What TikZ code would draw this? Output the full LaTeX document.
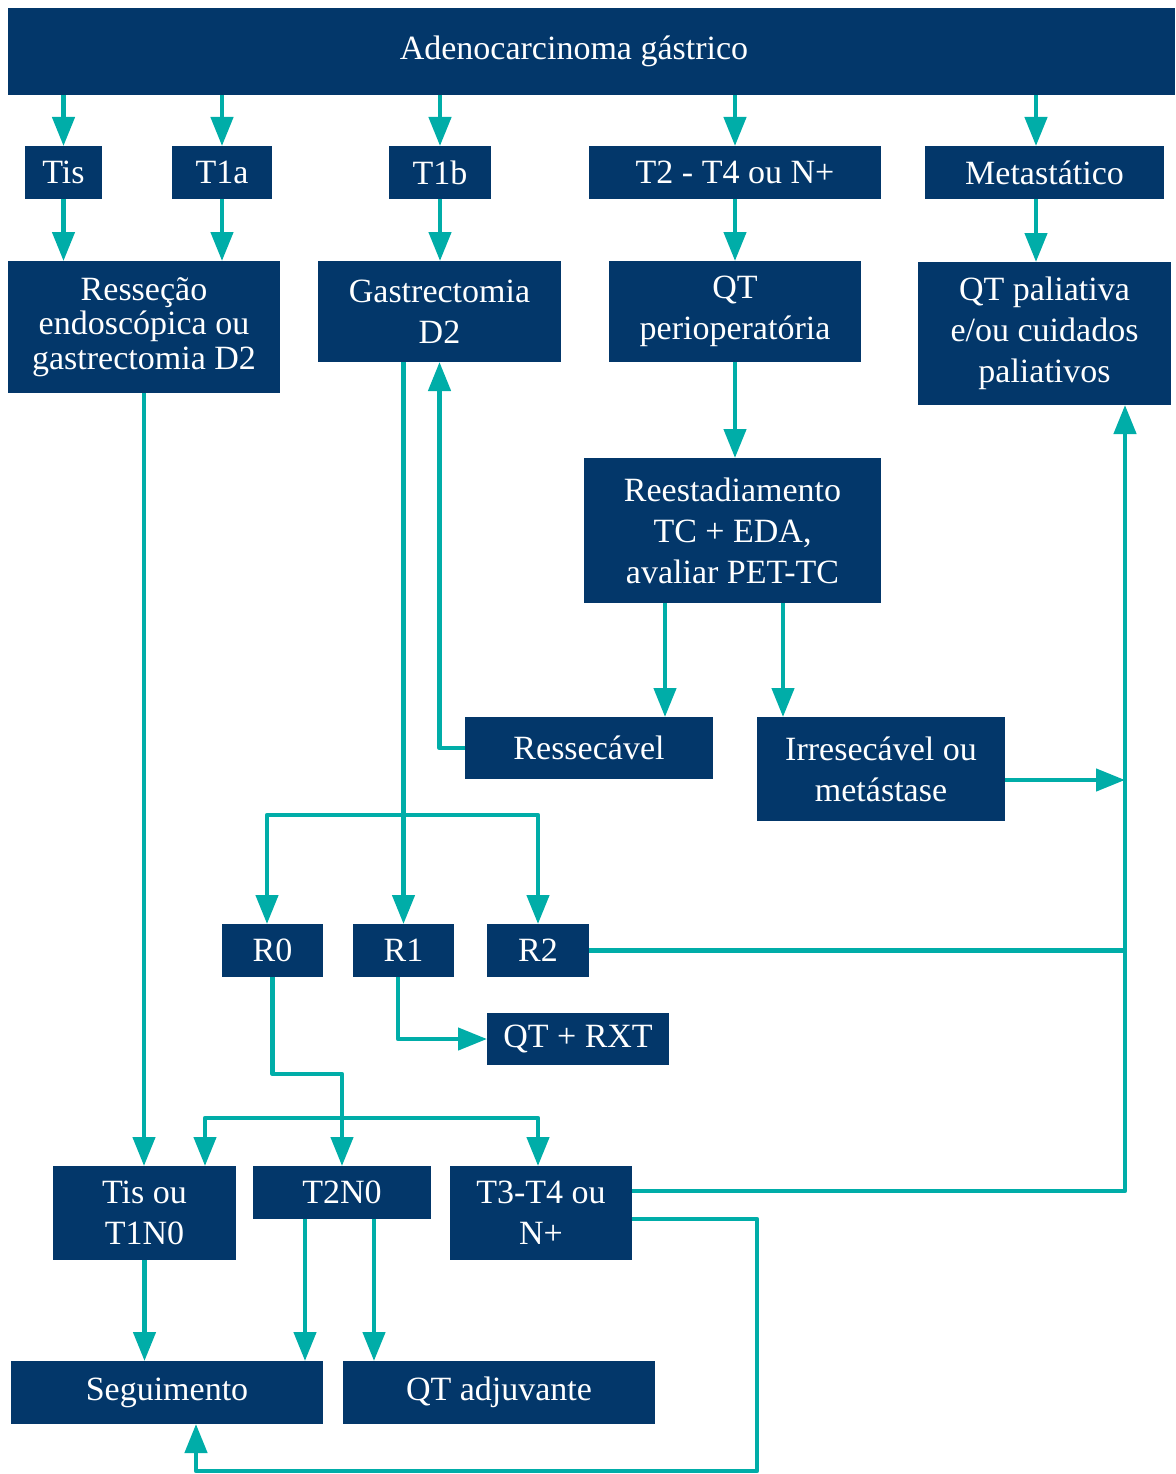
\documentclass[tikz,border=0pt]{standalone}
\usepackage{fontspec}
\setmainfont{Liberation Serif}
\usepackage{tikz}
\usetikzlibrary{arrows.meta}
\definecolor{boxblue}{HTML}{03376A}
\definecolor{linkteal}{HTML}{00ADA8}

\begin{document}
\begin{tikzpicture}[x=1pt,y=-1pt,
  box/.style={fill=boxblue, text=white, inner sep=0pt, outer sep=0pt, align=center, font=\fontsize{34}{41}\selectfont},
  link/.style={draw=linkteal, line width=4.5pt, line join=round, -{Triangle[length=29pt,width=22pt]}},
  bus/.style={draw=linkteal, line width=4.5pt, line join=round}]
\useasboundingbox (0,0) rectangle (1175,1474);
% boxes
\node[box, minimum width=1167pt, minimum height=87pt] (adeno) at (591.5,51.5) {\hspace*{-35pt}\raisebox{-3pt}{Adenocarcinoma gástrico}};
\node[box, minimum width=77pt, minimum height=53pt] (tis) at (63.5,172.5) {Tis};
\node[box, minimum width=100pt, minimum height=53pt] (tonea) at (222,172.5) {T1a};
\node[box, minimum width=102pt, minimum height=53pt] (toneb) at (440,172.5) {T1b};
\node[box, minimum width=292pt, minimum height=53pt] (ttwo) at (735,172.5) {T2 - T4 ou N+};
\node[box, minimum width=239pt, minimum height=53pt] (meta) at (1044.5,172.5) {Metastático};
\node[box, minimum width=272pt, minimum height=132pt, font=\fontsize{34}{34.5}\selectfont] (resec) at (144,327) {Resseção\\endoscópica ou\\gastrectomia D2};
\node[box, minimum width=243pt, minimum height=101pt] (gastro) at (439.5,311.5) {Gastrectomia\\D2};
\node[box, minimum width=252pt, minimum height=101pt] (qtperi) at (735,311.5) {QT\\perioperatória};
\node[box, minimum width=253pt, minimum height=143pt] (qtpal) at (1044.5,333.5) {QT paliativa\\e/ou cuidados\\paliativos};
\node[box, minimum width=297pt, minimum height=145pt] (reest) at (732.5,530.5) {Reestadiamento\\TC + EDA,\\avaliar PET-TC};
\node[box, minimum width=248pt, minimum height=62pt] (ressec) at (589,748) {Ressecável};
\node[box, minimum width=248pt, minimum height=104pt] (irres) at (881,769) {Irresecável ou\\metástase};
\node[box, minimum width=101pt, minimum height=53pt] (rzero) at (272.5,950.5) {R0};
\node[box, minimum width=101pt, minimum height=53pt] (rone) at (403.5,950.5) {R1};
\node[box, minimum width=102pt, minimum height=53pt] (rtwo) at (538,950.5) {R2};
\node[box, minimum width=182pt, minimum height=52pt] (qtrxt) at (578,1039) {QT + RXT};
\node[box, minimum width=183pt, minimum height=94pt] (tisn) at (144.5,1213) {Tis ou\\T1N0};
\node[box, minimum width=178pt, minimum height=53pt] (ttwon) at (342,1192.5) {T2N0};
\node[box, minimum width=182pt, minimum height=94pt] (tthree) at (541,1213) {T3-T4 ou\\N+};
\node[box, minimum width=312pt, minimum height=63pt] (segui) at (167,1392.5) {Seguimento};
\node[box, minimum width=312pt, minimum height=63pt] (qtadj) at (499,1392.5) {QT adjuvante};
% junctions
\coordinate (metain) at ([xshift=-8.5pt]meta.north);
\coordinate (metaout) at ([xshift=-8.5pt]meta.south);
\coordinate (rsa) at ([xshift=-67.5pt]reest.south);
\coordinate (rsb) at ([xshift=50.5pt]reest.south);
\coordinate (irrout) at ([yshift=-11pt]irres.east);
\coordinate (gsplit) at (403.5,815);
\coordinate (rzeroin) at ([xshift=-5.5pt]rzero.north);
\coordinate (roneout) at ([xshift=-5.5pt]rone.south);
\coordinate (rbend) at (342,1074);
\coordinate (tsplit) at (342,1118);
\coordinate (tisin) at ([xshift=60.5pt]tisn.north);
\coordinate (tthreein) at ([xshift=-3pt]tthree.north);
\coordinate (tna) at ([xshift=-37pt]ttwon.south);
\coordinate (tnb) at ([xshift=32pt]ttwon.south);
\coordinate (tthreeup) at ([yshift=22pt]tthree.east);
\coordinate (tthreelow) at ([yshift=-6pt]tthree.east);
\coordinate (busbot) at (1125,1191);
\coordinate (loopr) at (757,1471);
\coordinate (loopl) at (196,1471);
% connectors
\foreach \n in {tis,tonea,toneb,ttwo}
  \draw[link] (adeno.south -| \n.north) -- (\n.north);
\draw[link] (adeno.south -| metain) -- (metain);
\draw[link] (metaout) -- (metaout |- qtpal.north);
\draw[link] (tis) -- (tis |- resec.north);
\draw[link] (tonea) -- (tonea |- resec.north);
\draw[link] (toneb) -- (toneb |- gastro.north);
\draw[link] (ttwo) -- (ttwo |- qtperi.north);
\draw[link] (qtperi) -- (qtperi |- reest.north);
\draw[link] (rsa) -- (rsa |- ressec.north);
\draw[link] (rsb) -- (rsb |- irres.north);
\draw[link] (ressec.west) -| (gastro.south);
\draw[link] (irrout) -- (irrout -| busbot);
\draw[link] (gastro.south -| rone.north) -- (rone.north);
\draw[link] (gsplit) -| (rzeroin);
\draw[link] (gsplit) -| (rtwo.north);
\draw[bus] (rtwo.east) -- (rtwo.east -| busbot);
\draw[link] (roneout) |- (qtrxt.west);
\draw[link] (rzero.south) |- (rbend) -- (ttwon.north);
\draw[link] (tsplit) -| (tisin);
\draw[link] (tsplit) -| (tthreein);
\draw[link] (resec.south) -- (resec.south |- tisn.north);
\draw[link] (tisn) -- (tisn |- segui.north);
\draw[link] (tna) -- (tna |- segui.north);
\draw[link] (tnb) -- (tnb |- qtadj.north);
\draw[link] (tthreeup) -| (qtpal.south -| busbot);
\draw[link] (tthreelow) -| (loopr) -- (loopl) -- (loopl |- segui.south);
\end{tikzpicture}
\end{document}
